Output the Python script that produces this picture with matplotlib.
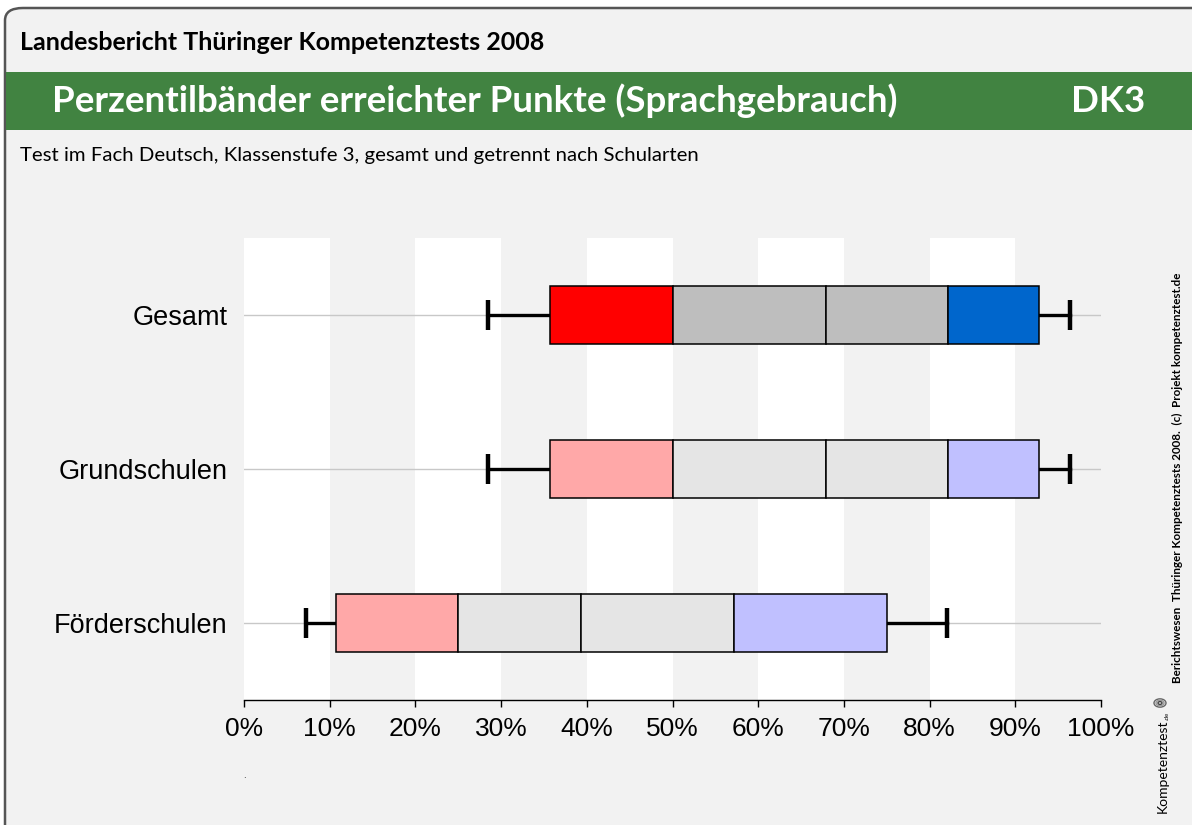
import matplotlib.pyplot as plt
import numpy as np
from matplotlib.patches import FancyBboxPatch, Rectangle, Circle

# percentile values (P5, P10, P25, P50, P75, P90, P95) in percent of points
groups = ['Gesamt', 'Grundschulen', 'Förderschulen']
p05 = [28.5, 28.5, 7.2]
p10 = [35.7, 35.7, 10.7]
p25 = [50.0, 50.0, 25.0]
p50 = [67.9, 67.9, 39.3]
p75 = [82.1, 82.1, 57.2]
p90 = [92.8, 92.8, 75.0]
p95 = [96.4, 96.4, 82.0]

xticks = np.arange(0, 101, 10)
xticklabels = [f'{t}%' for t in xticks]

strong = ['#ff0000', '#bebebe', '#bebebe', '#0066cc']
light = ['#ffa8a8', '#e5e5e5', '#e5e5e5', '#c0c0ff']

bg = '#f2f2f2'
W, H = 1192, 825
fig = plt.figure(figsize=(W / 100, H / 100), dpi=100)
fig.patch.set_facecolor('white')

# rounded frame
frame = FancyBboxPatch((5 / W, -0.2), 1.2, (H - 8) / H + 0.2,
                       boxstyle='round,pad=0,rounding_size=0.015',
                       transform=fig.transFigure, facecolor=bg,
                       edgecolor='#555555', linewidth=1.8, zorder=-2)
fig.patches.append(frame)

# header
fig.text(20 / W, 1 - 43 / H, 'Landesbericht Thüringer Kompetenztests 2008',
         fontsize=18, fontweight='bold', family='Lato', va='center', ha='left')
fig.patches.append(Rectangle((6 / W, 1 - 130 / H), 1, 58 / H,
                             transform=fig.transFigure, facecolor='#418341',
                             edgecolor='none', zorder=-1))
fig.text(52 / W, 1 - 101 / H, 'Perzentilbänder erreichter Punkte (Sprachgebrauch)',
         fontsize=26.4, fontweight='bold', family='Lato', color='white',
         va='center', ha='left')
fig.text(1145 / W, 1 - 101 / H, 'DK3', fontsize=26.4, fontweight='bold',
         family='Lato', color='white', va='center', ha='right')
fig.text(20 / W, 1 - 156 / H,
         'Test im Fach Deutsch, Klassenstufe 3, gesamt und getrennt nach Schularten',
         fontsize=14.7, family='Lato', va='center', ha='left')

# side texts
fig.text(1177 / W, 1 - 478 / H,
         'Berichtswesen  Thüringer Kompetenztests 2008.  (c)  Projekt kompetenztest.de',
         fontsize=8.4, fontweight='bold', family='Lato', rotation=90,
         va='center', ha='center')
fig.text(1163 / W, 1 - 766 / H, 'Kompetenztest', fontsize=10, family='Lato',
         rotation=90, va='center', ha='center')
fig.text(1167 / W, 1 - 716 / H, '.de', fontsize=4.5, family='Lato',
         rotation=90, va='center', ha='center')
for r, c in [(6, '#666666'), (4, '#999999'), (2, '#444444')]:
    fig.patches.append(Circle((1160 / W, 1 - 703 / H), r / W, transform=fig.transFigure,
                              facecolor='none', edgecolor=c, lw=1))

ax = fig.add_axes([244 / W, 125 / H, 857 / W, 462 / H])
ax.set_facecolor(bg)
for s in range(0, 100, 20):
    ax.axvspan(s, s + 10, color='white', zorder=0, lw=0)

bh = 0.38
cap = 0.1
for i, g in enumerate(groups):
    cols = strong if i == 0 else light
    ax.plot([0, 100], [i, i], color='#c8c8c8', lw=1, zorder=1)
    edges = [p10[i], p25[i], p50[i], p75[i], p90[i]]
    for k in range(4):
        ax.barh(i, edges[k + 1] - edges[k], left=edges[k], height=bh,
                color=cols[k], edgecolor='black', linewidth=1.1, zorder=3)
    ax.plot([p05[i], p10[i]], [i, i], color='black', lw=2.4, zorder=2)
    ax.plot([p90[i], p95[i]], [i, i], color='black', lw=2.4, zorder=2)
    ax.plot([p05[i], p05[i]], [i - cap, i + cap], color='black', lw=3.2,
            solid_capstyle='butt', zorder=2)
    ax.plot([p95[i], p95[i]], [i - cap, i + cap], color='black', lw=3.2,
            solid_capstyle='butt', zorder=2)

ax.set_xlim(0, 100)
ax.set_ylim(2.5, -0.5)
ax.set_yticks(range(len(groups)))
ax.set_yticklabels(groups, fontsize=19.5, family='Liberation Sans')
ax.tick_params(axis='y', length=0, pad=12)
ax.set_xticks(xticks)
ax.set_xticklabels(xticklabels, fontsize=19, family='Liberation Sans')
ax.tick_params(axis='x', length=5, width=1, pad=7)
for sp in ['top', 'right', 'left']:
    ax.spines[sp].set_visible(False)
ax.spines['bottom'].set_linewidth(1)

fig.text(244 / W, 1 - 775 / H, '.', fontsize=6, va='center', ha='center')

fig.savefig('out.png', dpi=100, facecolor='white')
